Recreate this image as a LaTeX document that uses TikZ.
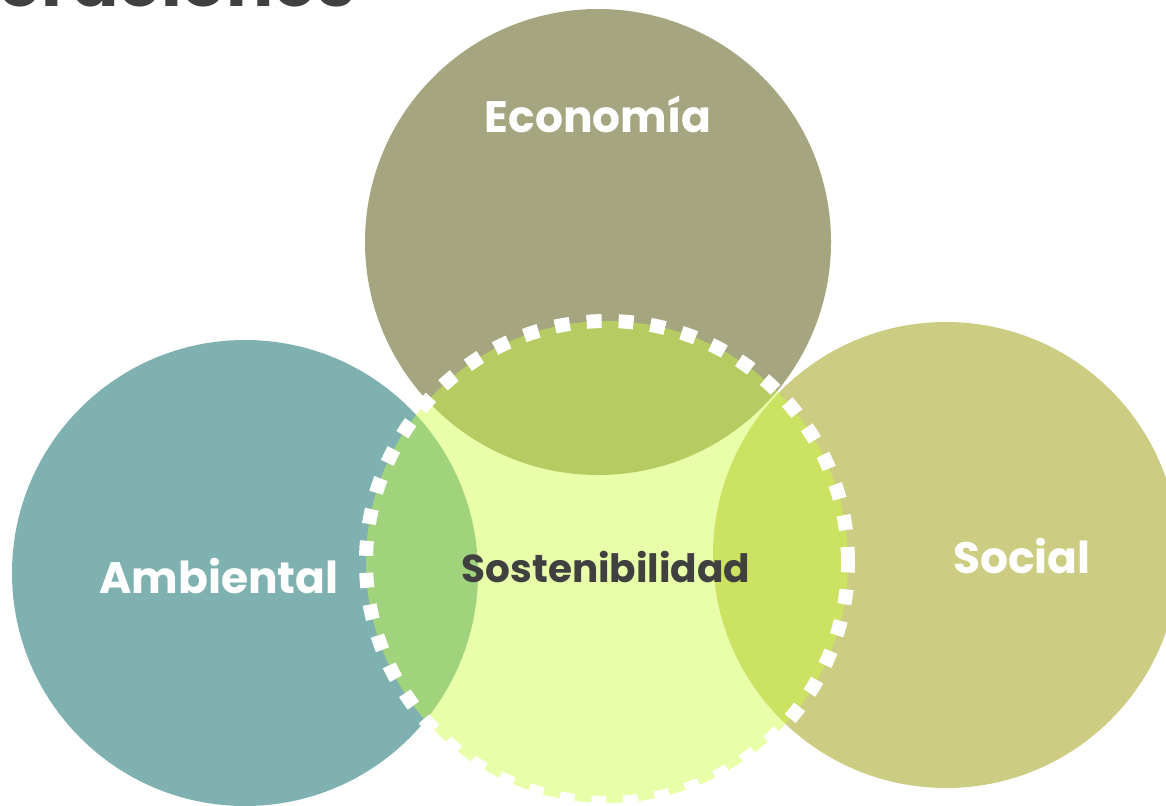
\documentclass[tikz,border=0pt]{standalone}
\usepackage{fontspec}
\setmainfont{Poppins}
\definecolor{econ}{RGB}{165,165,127}
\definecolor{amb}{RGB}{128,177,177}
\definecolor{soc}{RGB}{204,204,130}
\definecolor{cen}{RGB}{203,253,63}
\definecolor{dark}{RGB}{64,64,64}
\tikzset{
  bigcircle/.style={circle, minimum size=466pt, inner sep=0pt, draw=none},
  centercircle/.style={circle, minimum size=482pt, inner sep=0pt, fill=cen, fill opacity=0.45,
     draw=white, draw opacity=1, line width=14pt, dash pattern=on 15pt off 17pt},
  whitelabel/.style={text=white, font=\fontsize{44}{50}\selectfont\bfseries, inner sep=0pt, anchor=base},
  darklabel/.style={text=dark, font=\fontsize{39}{46}\selectfont\bfseries, inner sep=0pt, anchor=base},
}
\begin{document}
\begin{tikzpicture}[x=1pt,y=-1pt]
\useasboundingbox (0,0) rectangle (1166,805);
\clip (0,0) rectangle (1166,805);
\node[bigcircle, fill=econ] (eco) at (598,242) {};
\node[bigcircle, fill=amb] (amb) at (245,573) {};
\node[bigcircle, fill=soc] (soc) at (946,555) {};
\node[centercircle] (sos) at (607,562) {};
\node[whitelabel] (tEco) at (598,133) {Economía};
\node[whitelabel] (tAmb) at (219,593) {Ambiental};
\node[whitelabel] (tSoc) at (1022,573) {Social};
\node[darklabel] (tSos) at (606,582) {Sostenibilidad};
\node[text=dark, font=\fontsize{70}{76}\selectfont\bfseries, inner sep=0pt, anchor=base west] (title) at (-2,7) {eraciones};
\end{tikzpicture}
\end{document}
